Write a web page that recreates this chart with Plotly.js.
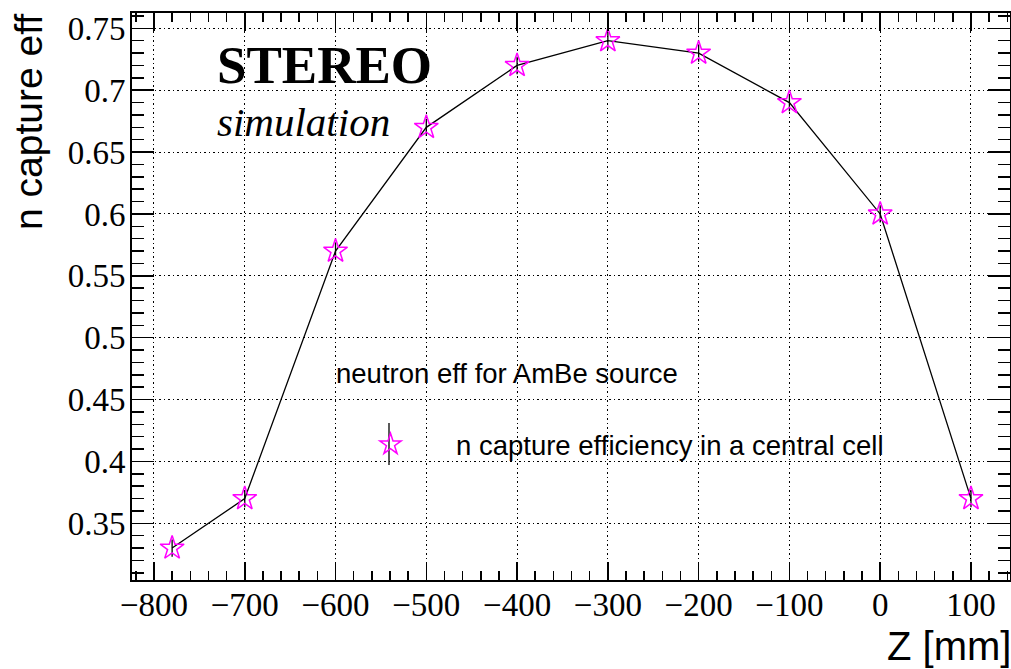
<!DOCTYPE html>
<html>
<head>
<meta charset="utf-8">
<script src="https://cdn.plot.ly/plotly-3.0.1.min.js"></script>
<style>html,body{margin:0;padding:0;background:#fff;}#chart{width:1011px;height:669px;}</style>
</head>
<body>
<div id="chart"></div>
<script>
const zPositions = [-780, -700, -600, -500, -400, -300, -200, -100, 0, 100];
const captureEff = [0.33, 0.37, 0.57, 0.67, 0.72, 0.74, 0.73, 0.69, 0.60, 0.37];
const effErrors = [0.007, 0.007, 0.007, 0.007, 0.007, 0.007, 0.007, 0.007, 0.007, 0.007];
const seriesName = 'n capture efficiency in a central cell';
const legendHeader = 'neutron eff for AmBe source';
const xTitle = 'Z [mm]';
const yTitle = 'n capture eff';

const serif = 'Liberation Serif';
const sans = 'Liberation Sans';

const lineTrace = {
  x: zPositions, y: captureEff, type: 'scatter', mode: 'lines',
  line: {color: '#000', width: 1.3}, showlegend: false, hoverinfo: 'skip'
};
const markerTrace = {
  x: zPositions, y: captureEff, type: 'scatter', mode: 'markers',
  name: seriesName,
  marker: {symbol: 'star-open', size: 18, color: '#ff00ff', line: {color: '#ff00ff', width: 1.5}},
  error_y: {type: 'data', array: effErrors, visible: true, color: '#000', thickness: 1.3, width: 0},
  showlegend: true
};

const pL = 132, pR = 1010, pT = 13, pB = 580;
const W = pR - pL, H = pB - pT;
const px = v => (v - pL) / W;
const py = v => (pB - v) / H;

const layout = {
  width: 1011, height: 669,
  margin: {l: pL, r: 1011 - pR, t: pT, b: 669 - pB, pad: 0},
  paper_bgcolor: '#fff', plot_bgcolor: '#fff',
  font: {family: serif, color: '#000', size: 33},
  xaxis: {
    range: [-824.2, 143.0], dtick: 100, tick0: 0,
    showgrid: true, gridcolor: '#000', griddash: '1.5px,3px', gridwidth: 1,
    zeroline: false, showline: true, linecolor: '#000', linewidth: 2, mirror: 'allticks',
    ticks: 'inside', ticklen: 18, tickwidth: 1.5, tickcolor: '#000',
    minor: {dtick: 20, ticks: 'inside', ticklen: 9, tickwidth: 1.5, tickcolor: '#000', showgrid: false},
    tickfont: {family: serif, size: 33, color: '#000'},
    ticklabelstandoff: -6
  },
  yaxis: {
    range: [0.3042, 0.7624], dtick: 0.05, tick0: 0,
    showgrid: true, gridcolor: '#000', griddash: '1.5px,3px', gridwidth: 1,
    zeroline: false, showline: true, linecolor: '#000', linewidth: 2, mirror: 'allticks',
    ticks: 'inside', ticklen: 22, tickwidth: 1.5, tickcolor: '#000',
    minor: {dtick: 0.01, ticks: 'inside', ticklen: 12, tickwidth: 1.5, tickcolor: '#000', showgrid: false},
    tickfont: {family: serif, size: 33, color: '#000'},
    ticklabelstandoff: -2
  },
  showlegend: true,
  legend: {
    x: px(325), y: py(420), xanchor: 'left', yanchor: 'top',
    bgcolor: 'rgba(0,0,0,0)', borderwidth: 0, itemwidth: 121,
    font: {family: sans, size: 27.5, color: '#000'}
  },
  shapes: [
    {type: 'rect', xref: 'paper', yref: 'paper', x0: px(322), x1: px(853), y0: py(483), y1: py(334),
     fillcolor: '#fff', line: {width: 0}, layer: 'between'},
    {type: 'line', xref: 'paper', yref: 'paper', x0: px(389), x1: px(389), y0: py(465), y1: py(423),
     line: {color: '#000', width: 1.3}, layer: 'above'}
  ],
  annotations: [
    {text: '<b>STEREO</b>', xref: 'paper', yref: 'paper', x: px(215), y: py(65), xanchor: 'left', yanchor: 'middle',
     showarrow: false, font: {family: serif, size: 53, color: '#000'}},
    {text: '<i>simulation</i>', xref: 'paper', yref: 'paper', x: px(215), y: py(122), xanchor: 'left', yanchor: 'middle',
     showarrow: false, font: {family: serif, size: 41, color: '#000'}},
    {text: legendHeader, xref: 'paper', yref: 'paper', x: px(334), y: py(373), xanchor: 'left', yanchor: 'middle',
     showarrow: false, font: {family: sans, size: 27.5, color: '#000'}},
    {text: xTitle, xref: 'paper', yref: 'paper', x: px(1012), y: py(646), xanchor: 'right', yanchor: 'middle',
     borderpad: 0, showarrow: false, font: {family: sans, size: 40, color: '#000'}},
    {text: yTitle, xref: 'paper', yref: 'paper', x: px(28), y: py(12), xanchor: 'center', yanchor: 'top',
     textangle: -90, showarrow: false, font: {family: sans, size: 39, color: '#000'}}
  ]
};

Plotly.newPlot('chart', [lineTrace, markerTrace], layout, {displayModeBar: false, staticPlot: true});
</script>
</body>
</html>
